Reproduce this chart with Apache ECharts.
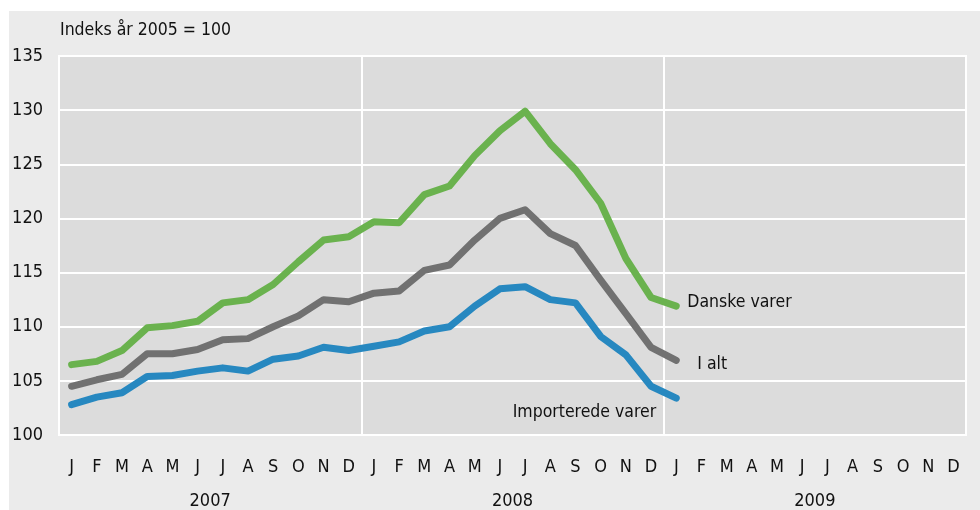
<!DOCTYPE html>
<html><head><meta charset="utf-8">
<script src="https://cdn.jsdelivr.net/npm/echarts@6/dist/echarts.min.js"></script>
<style>
html,body{margin:0;padding:0;background:#fff;}
#bg{position:absolute;left:9px;top:11px;width:971px;height:499px;background:#ebebeb;}
#c{position:absolute;left:0;top:0;width:980px;height:510px;}
</style></head>
<body><div id="bg"></div><div id="c"></div>
<script>
const months = ['J','F','M','A','M','J','J','A','S','O','N','D','J','F','M','A','M','J','J','A','S','O','N','D','J','F','M','A','M','J','J','A','S','O','N','D'];
const years = ['2007','2008','2009'];
const danske = [106.5,106.8,107.8,109.9,110.1,110.5,112.2,112.5,113.9,116.0,118.0,118.3,
                119.7,119.6,122.2,123.0,125.8,128.1,129.9,126.9,124.5,121.4,116.3,112.7,111.9];
const ialt = [104.5,105.1,105.6,107.5,107.5,107.9,108.8,108.9,110.0,111.0,112.5,112.3,
              113.1,113.3,115.2,115.7,118.0,120.0,120.8,118.6,117.5,114.3,111.2,108.1,106.9];
const importerede = [102.8,103.5,103.9,105.4,105.5,105.9,106.2,105.9,107.0,107.3,108.1,107.8,
                     108.2,108.6,109.6,110.0,111.9,113.5,113.7,112.5,112.2,109.1,107.4,104.5,103.4];
const yTitle = 'Indeks år 2005 = 100';
const FONT = "'DejaVu Sans Condensed','Liberation Sans Narrow','Noto Sans',sans-serif";
const chart = echarts.init(document.getElementById('c'));
chart.setOption({
  backgroundColor: 'transparent',
  animation: false,
  textStyle: {fontFamily: FONT},
  grid: {left: 59, right: 14, top: 56, bottom: 75, show: true, backgroundColor: '#dcdcdc', borderColor: '#ffffff', borderWidth: 2},
  graphic: [{type: 'text', left: 60, top: 21, style: {text: yTitle, font: "17.5px " + FONT, fill: '#111'}}],
  xAxis: [
    {type: 'category', data: months, boundaryGap: true,
     axisLine: {show: false}, axisTick: {show: false},
     axisLabel: {interval: 0, fontSize: 18, color: '#111', margin: 23, fontFamily: FONT},
     splitLine: {show: true, interval: function(i){return i % 12 === 0;}, lineStyle: {color: '#ffffff', width: 2}}},
    {type: 'category', data: years, position: 'bottom', offset: 49,
     axisLine: {show: false}, axisTick: {show: false},
     axisLabel: {interval: 0, fontSize: 18, color: '#111', fontFamily: FONT}, splitLine: {show: false}}
  ],
  yAxis: {type: 'value', min: 100, max: 135, interval: 5,
    axisLine: {show: false}, axisTick: {show: false},
    axisLabel: {fontSize: 18, color: '#111', margin: 16, fontFamily: FONT},
    splitLine: {lineStyle: {color: '#ffffff', width: 2}}},
  series: [
    {name: 'Danske varer', type: 'line', data: danske, symbol: 'none', lineStyle: {width: 7, color: '#6ab24e', cap: 'round', join: 'round'}, itemStyle: {color: '#6ab24e'},
     endLabel: {show: true, formatter: 'Danske varer', fontSize: 17.5, color: '#111', fontFamily: FONT, distance: 11, offset: [0, -4]}},
    {name: 'I alt', type: 'line', data: ialt, symbol: 'none', lineStyle: {width: 7, color: '#717171', cap: 'round', join: 'round'}, itemStyle: {color: '#717171'},
     endLabel: {show: true, formatter: 'I alt', fontSize: 17.5, color: '#111', fontFamily: FONT, distance: 21, offset: [0, 4]}},
    {name: 'Importerede varer', type: 'line', data: importerede, symbol: 'none', lineStyle: {width: 7, color: '#2788c0', cap: 'round', join: 'round'}, itemStyle: {color: '#2788c0'},
     endLabel: {show: true, formatter: 'Importerede varer', fontSize: 17.5, color: '#111', fontFamily: FONT, distance: 0, align: 'right', offset: [-20, 14]}}
  ]
});
</script></body></html>
